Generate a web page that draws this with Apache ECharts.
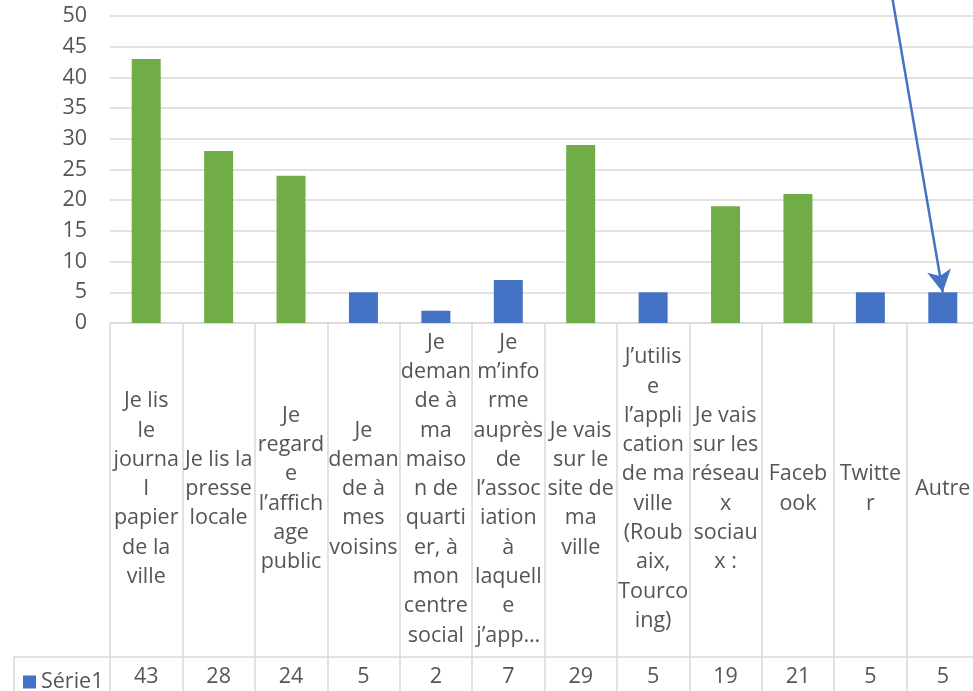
<!DOCTYPE html>
<html>
<head>
<meta charset="utf-8">
<script src="https://cdn.jsdelivr.net/npm/echarts@6/dist/echarts.min.js"></script>
<style>
	html, body {
	margin: 0;
	padding: 0;
	background: #fff;
	overflow: hidden;
	}
	#main {
	width: 990px;
	height: 691px;
	}
</style>
</head>
<body>
<div id="main"></div>
<script>
// categories as they are wrapped in the data table
var categories = [
	'Je lis\nle\njourna\nl\npapier\nde la\nville',
	'Je lis la\npresse\nlocale',
	'Je\nregard\ne\nl\u2019affich\nage\npublic',
	'Je\ndeman\nde \u00e0\nmes\nvoisins',
	'Je\ndeman\nde \u00e0\nma\nmaiso\nn de\nquarti\ner, \u00e0\nmon\ncentre\nsocial',
	'Je\nm\u2019info\nrme\naupr\u00e8s\nde\nl\u2019assoc\niation\n\u00e0\nlaquell\ne\nj\u2019app\u2026',
	'Je vais\nsur le\nsite de\nma\nville',
	'J\u2019utilis\ne\nl\u2019appli\ncation\nde ma\nville\n(Roub\naix,\nTourco\ning)',
	'Je vais\nsur les\nr\u00e9seau\nx\nsociau\nx :',
	'Faceb\nook',
	'Twitte\nr',
	'Autre'
];
var values = [43, 28, 24, 5, 2, 7, 29, 5, 19, 21, 5, 5];
var highlighted = [true, true, true, false, false, false, true, false, true, true, false, false];
var seriesName = 'S\u00e9rie1';
var yTicks = {min: 0, max: 50, interval: 5};

var BLUE = '#4472c4';
var GREEN = '#70ad47';
var GRID = '#d9d9d9';
var TEXT = '#555555';
var FONT = 'Open Sans';
var FS = 21.5;

var barData = [];
for (var i = 0; i < values.length; i++) {
	barData.push({
		value: values[i],
		itemStyle: {color: highlighted[i] ? GREEN : BLUE}
	});
}

var myChart = echarts.init(document.getElementById('main'));
var option = {
	animation: false,
	textStyle: {fontFamily: FONT},
	grid: {left: 110, top: 16, width: 869, height: 307},
	legend: {
		left: 18,
		top: 666,
		icon: 'rect',
		itemWidth: 13,
		itemHeight: 13,
		itemGap: 6,
		selectedMode: false,
		data: [seriesName],
		textStyle: {color: TEXT, fontSize: FS, fontFamily: FONT}
	},
	xAxis: [
	{
		type: 'category',
		data: categories,
		axisLine: {show: true, lineStyle: {color: GRID, width: 1.5}},
		axisTick: {show: true, length: 334, interval: 0, lineStyle: {color: GRID, width: 1.5}},
		axisLabel: {
			interval: 0,
			margin: 166,
			verticalAlign: 'middle',
			align: 'center',
			lineHeight: 29.3,
			fontSize: FS,
			color: TEXT,
			fontFamily: FONT
		}
	},
	{
		type: 'category',
		position: 'bottom',
		offset: 334,
		data: values.map(String),
		axisLine: {show: true, lineStyle: {color: GRID, width: 1.5}},
		axisTick: {show: true, length: 40, interval: 0, lineStyle: {color: GRID, width: 1.5}},
		axisLabel: {
			interval: 0,
			margin: 20,
			verticalAlign: 'middle',
			fontSize: FS,
			color: TEXT,
			fontFamily: FONT
		}
	}
	],
	yAxis: {
		type: 'value',
		min: yTicks.min,
		max: yTicks.max,
		interval: yTicks.interval,
		axisLine: {show: false},
		axisTick: {show: false},
		splitLine: {lineStyle: {color: GRID, width: 1.5}},
		axisLabel: {color: TEXT, fontSize: FS, margin: 23, fontFamily: FONT}
	},
	graphic: [
	{
		type: 'polyline',
		shape: {points: [[14, 700], [14, 657], [110, 657]]},
		style: {stroke: GRID, lineWidth: 1.5, fill: null},
		silent: true
	}
	],
	series: [
	{
		name: seriesName,
		type: 'bar',
		barWidth: 29,
		itemStyle: {color: BLUE},
		data: barData,
		markLine: {
			silent: true,
			symbol: ['none', 'arrow'],
			symbolSize: [18, 22],
			label: {show: false},
			lineStyle: {color: BLUE, width: 2.5, type: 'solid'},
			data: [
			[
			{x: 892, y: -4},
			{coord: [categories[11], values[11]]}
			]
			]
		}
	}
	]
};
myChart.setOption(option);
</script>
</body>
</html>
